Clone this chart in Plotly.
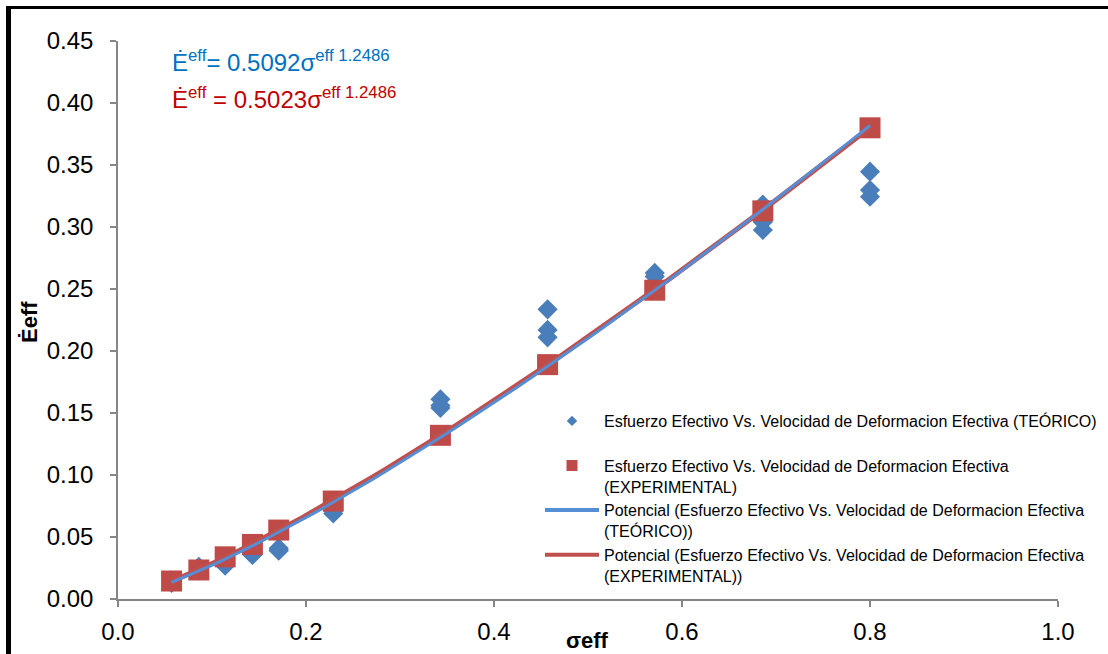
import numpy as np
import plotly.graph_objects as go

# ---- data ----
sigma_exp = [0.057, 0.086, 0.114, 0.143, 0.171, 0.229, 0.343, 0.457, 0.571, 0.686, 0.800]
edot_exp = [0.0145, 0.0234, 0.034, 0.044, 0.0556, 0.079, 0.132, 0.189, 0.249, 0.313, 0.380]

sigma_teo = [0.057, 0.057, 0.057, 0.086, 0.086, 0.086, 0.114, 0.114, 0.114,
             0.143, 0.143, 0.143, 0.171, 0.171, 0.171, 0.229, 0.229, 0.229,
             0.343, 0.343, 0.343, 0.457, 0.457, 0.457, 0.571, 0.571, 0.571,
             0.686, 0.686, 0.686, 0.800, 0.800, 0.800]
edot_teo = [0.013, 0.014, 0.015, 0.026, 0.024, 0.023, 0.033, 0.027, 0.027,
            0.036, 0.043, 0.0355, 0.041, 0.0395, 0.039, 0.069, 0.071, 0.075,
            0.161, 0.154, 0.156, 0.2336, 0.217, 0.211, 0.263, 0.260, 0.255,
            0.318, 0.304, 0.2976, 0.3446, 0.3298, 0.3244]

# power trendline coefficients (y = a * x^b)
fit_teo_a, fit_teo_b = 0.507, 1.27
fit_exp_a, fit_exp_b = 0.5023, 1.2486
trend_x = np.linspace(0.057, 0.8, 60)

x_ticks = [0.0, 0.2, 0.4, 0.6, 0.8, 1.0]
y_ticks = [0.00, 0.05, 0.10, 0.15, 0.20, 0.25, 0.30, 0.35, 0.40, 0.45]

name_teo = "Esfuerzo Efectivo Vs. Velocidad de Deformacion Efectiva (TEÓRICO)<br> "
name_exp = "Esfuerzo Efectivo Vs. Velocidad de Deformacion Efectiva<br>(EXPERIMENTAL)"
name_pt = "Potencial (Esfuerzo Efectivo Vs. Velocidad de Deformacion Efectiva<br>(TEÓRICO))"
name_pe = "Potencial (Esfuerzo Efectivo Vs. Velocidad de Deformacion Efectiva<br>(EXPERIMENTAL))"

BLUE = "#4A7EBB"
RED = "#BE4B48"
LBLUE = "#558ED5"
LRED = "#C0504D"
FONT = "Liberation Sans, Arial"

# pixel -> paper helpers (plot area: x 118..1058, y 41..599)
def px(x):
    return (x - 118) / 940


def py(y):
    return (599 - y) / 558


fig = go.Figure()
fig.add_trace(go.Scatter(x=sigma_teo, y=edot_teo, mode="markers", showlegend=False,
                         marker=dict(symbol="diamond", size=15.5, color=BLUE)))
fig.add_trace(go.Scatter(x=sigma_exp, y=edot_exp, mode="markers", showlegend=False,
                         marker=dict(symbol="square", size=21, color=RED)))
fig.add_trace(go.Scatter(x=trend_x, y=fit_exp_a * trend_x ** fit_exp_b, mode="lines", showlegend=False,
                         line=dict(color=LRED, width=5)))
fig.add_trace(go.Scatter(x=trend_x, y=fit_teo_a * trend_x ** fit_teo_b, mode="lines", showlegend=False,
                         line=dict(color=LBLUE, width=3)))

# legend entries
fig.add_trace(go.Scatter(x=[None], y=[None], mode="markers", name=name_teo,
                         marker=dict(symbol="diamond", size=8, color=BLUE), legendrank=1))
fig.add_trace(go.Scatter(x=[None], y=[None], mode="markers", name=name_exp,
                         marker=dict(symbol="square", size=11, color=RED), legendrank=2))
fig.add_trace(go.Scatter(x=[None], y=[None], mode="lines", name=name_pt,
                         line=dict(color=LBLUE, width=4), legendrank=3))
fig.add_trace(go.Scatter(x=[None], y=[None], mode="lines", name=name_pe,
                         line=dict(color=LRED, width=4), legendrank=4))

axis_common = dict(showgrid=False, zeroline=False, showline=True, linecolor="#868686", linewidth=1.5,
                   ticks="outside", ticklen=6, tickcolor="#868686", tickwidth=1.5, automargin=False,
                   tickfont=dict(family=FONT, size=24, color="black"))

fig.update_xaxes(range=[0, 1.0], tickvals=x_ticks, ticktext=[f"{v:.1f}" for v in x_ticks],
                 ticklabelstandoff=4, **axis_common)
fig.update_yaxes(range=[0, 0.45], tickvals=y_ticks, ticktext=[f"{v:.2f}" for v in y_ticks],
                 ticklabelstandoff=12, **axis_common)

# axis titles
fig.add_annotation(xref="paper", yref="paper", x=px(587), y=py(640), showarrow=False,
                   xanchor="center", yanchor="middle", text="<b>σeff</b>",
                   font=dict(family=FONT, size=22, color="black"))
fig.add_annotation(xref="paper", yref="paper", x=px(30), y=py(322), showarrow=False,
                   xanchor="center", yanchor="middle", text="<b>Ėeff</b>", textangle=-90,
                   font=dict(family=FONT, size=22, color="black"))

# trendline equations
fig.add_annotation(xref="paper", yref="paper", x=px(170), y=py(61),
                   xanchor="left", yanchor="middle", showarrow=False,
                   text="Ė<sup>eff</sup>= 0.5092σ<sup>eff 1.2486</sup>",
                   font=dict(family=FONT, size=24, color="#0070C0"))
fig.add_annotation(xref="paper", yref="paper", x=px(170), y=py(98),
                   xanchor="left", yanchor="middle", showarrow=False,
                   text="Ė<sup>eff</sup> = 0.5023σ<sup>eff 1.2486</sup>",
                   font=dict(family=FONT, size=24, color="#C00000"))

# outer chart border (left and top)
fig.add_shape(type="line", xref="paper", yref="paper",
              x0=px(8.5), x1=px(8.5), y0=py(660), y1=py(6),
              line=dict(color="black", width=5))
fig.add_shape(type="line", xref="paper", yref="paper",
              x0=px(6), x1=px(1112), y0=py(7.5), y1=py(7.5),
              line=dict(color="black", width=3))

fig.update_layout(
    width=1108, height=654,
    margin=dict(l=118, r=50, t=41, b=55, autoexpand=False),
    paper_bgcolor="white", plot_bgcolor="white",
    font=dict(family=FONT, color="black"),
    legend=dict(x=px(540), y=py(404), xanchor="left", yanchor="top",
                bgcolor="rgba(0,0,0,0)", font=dict(size=16, color="black", family=FONT),
                valign="top", traceorder="normal", itemwidth=54),
)

fig.write_html("out.html", config={"displayModeBar": False},
               post_script="document.body.style.margin='0';")
